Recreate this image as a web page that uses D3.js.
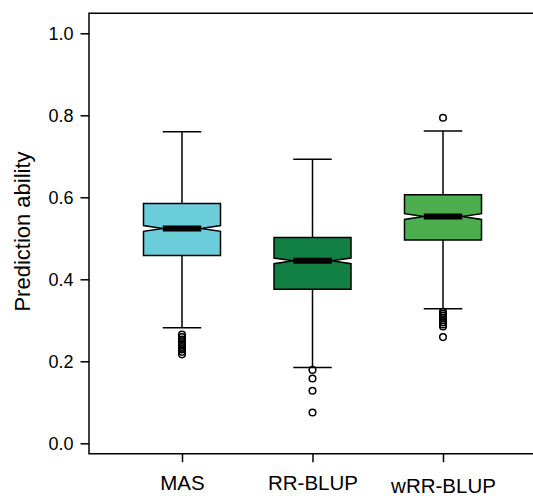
<!DOCTYPE html>
<html>
<head>
<meta charset="utf-8">
<script src="https://cdn.jsdelivr.net/npm/d3@7"></script>
<style>
  body { margin: 0; background: #fff; }
  svg text { font-family: "Liberation Sans", Arial, sans-serif; fill: #000; }
</style>
</head>
<body>
<svg id="chart" width="533" height="496"></svg>
<script>
// methods on the x axis
var methods = ['MAS', 'RR-BLUP', 'wRR-BLUP'];
var colors = ['#6bccda', '#138043', '#4cae4f'];

// box statistics per method
var whiskLow  = [0.282, 0.185, 0.328];
var q1        = [0.458, 0.376, 0.496];
var medians   = [0.524, 0.445, 0.553];
var q3        = [0.585, 0.502, 0.606];
var whiskHigh = [0.760, 0.693, 0.762];
var notchHalf = [0.007, 0.007, 0.007];

var outliers = [
    [0.265, 0.259, 0.253, 0.247, 0.241, 0.235, 0.229, 0.223, 0.217],
    [0.179, 0.158, 0.128, 0.075],
    [0.794, 0.321, 0.316, 0.311, 0.306, 0.300, 0.295, 0.290, 0.285, 0.259]
];

var yTicks = [0, 0.2, 0.4, 0.6, 0.8, 1.0];

var svg = d3.select('#chart');

var mLeft = 89, mTop = 13.3, mBottom = 453.7, mRight = 540;

var x = d3.scalePoint().domain(methods).range([182, 443]);
var y = d3.scaleLinear().domain([0, 1]).range([443.3, 33.3]);

var boxW = 77;

// frame (right edge falls outside the picture)
svg.append('path')
    .attr('d', 'M' + mRight + ',' + mTop + 'H' + mLeft + 'V' + mBottom + 'H' + mRight)
    .attr('fill', 'none')
    .attr('stroke', '#000')
    .attr('stroke-width', 1.5);

// y axis
var yAxis = svg.append('g')
    .attr('transform', 'translate(' + mLeft + ',0)')
    .call(d3.axisLeft(y).tickValues(yTicks).tickFormat(d3.format('.1f')).tickSize(8.5).tickPadding(7));
yAxis.select('.domain').remove();
yAxis.selectAll('line').attr('stroke-width', 1.5);
yAxis.selectAll('text').attr('font-size', 18).attr('font-family', null);

// x axis
var xAxis = svg.append('g')
    .attr('transform', 'translate(0,' + mBottom + ')')
    .call(d3.axisBottom(x).tickSize(8.5).tickPadding(13));
xAxis.select('.domain').remove();
xAxis.selectAll('line').attr('stroke-width', 1.5);
xAxis.selectAll('text').attr('font-size', 20.5).attr('font-family', null)
    .attr('dy', function(d) { return d[0] === d[0].toLowerCase() ? '0.85em' : '0.71em'; });

svg.append('text')
    .attr('transform', 'translate(30,' + ((mTop + mBottom) / 2 - 2) + ') rotate(-90)')
    .attr('text-anchor', 'middle')
    .attr('font-size', 22)
    .text('Prediction ability');

var data = methods.map(function(m, i) {
    return {name: m, color: colors[i], lo: whiskLow[i], q1: q1[i], med: medians[i],
            q3: q3[i], hi: whiskHigh[i], n: notchHalf[i], out: outliers[i]};
});

var g = svg.selectAll('g.box')
    .data(data)
    .enter().append('g')
    .attr('class', 'box');

// whiskers
g.append('line')
    .attr('x1', function(d) { return x(d.name); })
    .attr('x2', function(d) { return x(d.name); })
    .attr('y1', function(d) { return y(d.hi); })
    .attr('y2', function(d) { return y(d.q3); })
    .attr('stroke', '#000').attr('stroke-width', 1.5);
g.append('line')
    .attr('x1', function(d) { return x(d.name); })
    .attr('x2', function(d) { return x(d.name); })
    .attr('y1', function(d) { return y(d.q1); })
    .attr('y2', function(d) { return y(d.lo); })
    .attr('stroke', '#000').attr('stroke-width', 1.5);
['hi', 'lo'].forEach(function(k) {
    g.append('line')
        .attr('x1', function(d) { return x(d.name) - boxW / 4; })
        .attr('x2', function(d) { return x(d.name) + boxW / 4; })
        .attr('y1', function(d) { return y(d[k]); })
        .attr('y2', function(d) { return y(d[k]); })
        .attr('stroke', '#000').attr('stroke-width', 1.5);
});

// notched box
g.append('path')
    .attr('d', function(d) {
        var cx = x(d.name), l = cx - boxW / 2, r = cx + boxW / 2;
        var il = cx - boxW / 4, ir = cx + boxW / 4;
        return 'M' + l + ',' + y(d.q3) + 'H' + r +
            'V' + y(d.med + d.n) + 'L' + ir + ',' + y(d.med) + 'L' + r + ',' + y(d.med - d.n) +
            'V' + y(d.q1) + 'H' + l +
            'V' + y(d.med - d.n) + 'L' + il + ',' + y(d.med) + 'L' + l + ',' + y(d.med + d.n) + 'Z';
    })
    .attr('fill', function(d) { return d.color; })
    .attr('stroke', '#000')
    .attr('stroke-width', 1.5)
    .attr('stroke-linejoin', 'miter');

// median bar
g.append('line')
    .attr('x1', function(d) { return x(d.name) - boxW / 4; })
    .attr('x2', function(d) { return x(d.name) + boxW / 4; })
    .attr('y1', function(d) { return y(d.med); })
    .attr('y2', function(d) { return y(d.med); })
    .attr('stroke', '#000').attr('stroke-width', 6);

// outliers
g.selectAll('circle')
    .data(function(d) { return d.out.map(function(v) { return {name: d.name, v: v}; }); })
    .enter().append('circle')
    .attr('cx', function(d) { return x(d.name); })
    .attr('cy', function(d) { return y(d.v); })
    .attr('r', 3.3)
    .attr('fill', 'none')
    .attr('stroke', '#000')
    .attr('stroke-width', 1.5);
</script>
</body>
</html>
